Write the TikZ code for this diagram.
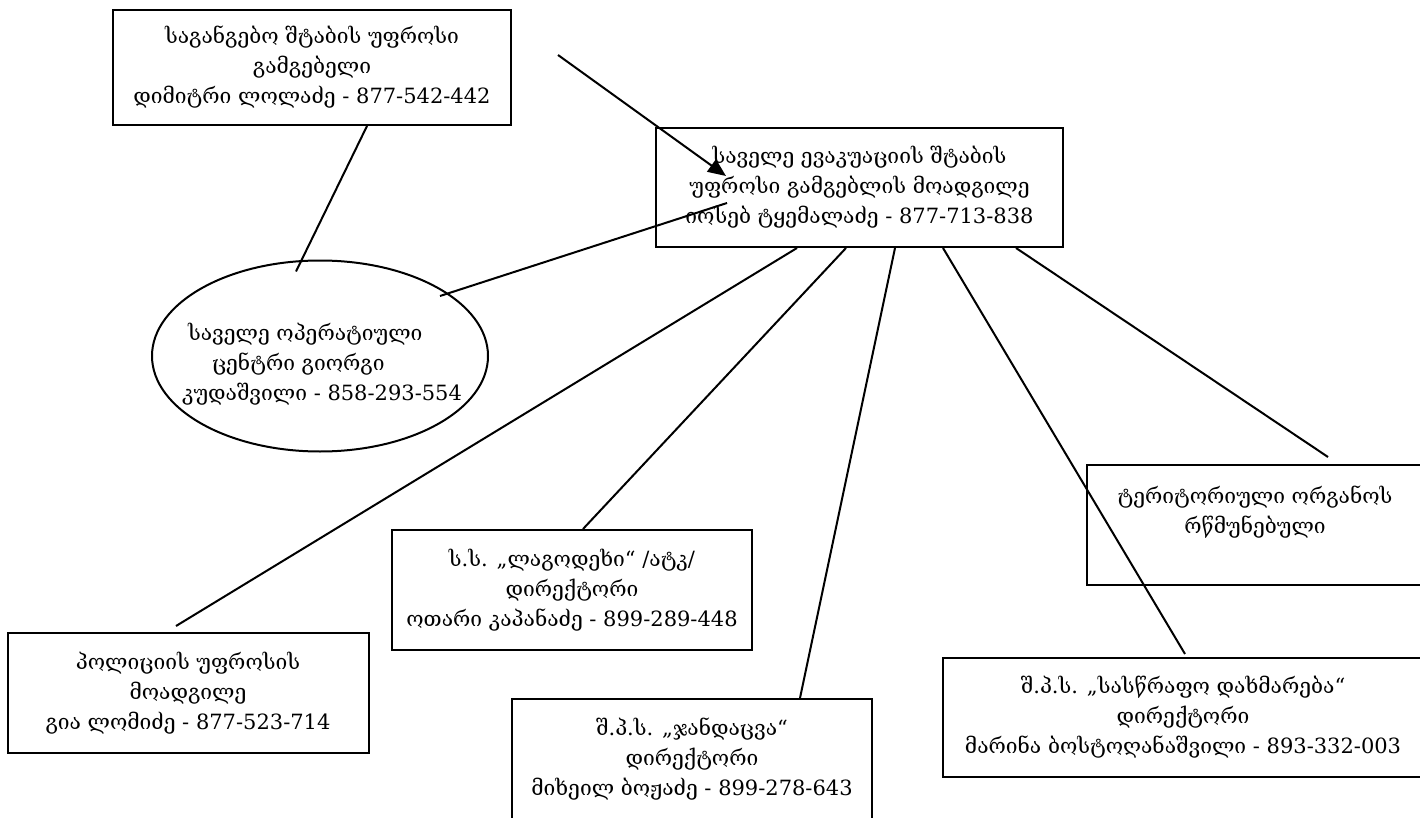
\documentclass[tikz,border=0pt]{standalone}
\usepackage{fontspec}
\setmainfont{DejaVu Serif}
\usetikzlibrary{calc,positioning,arrows.meta,shapes.geometric}

\begin{document}
\begin{tikzpicture}[x=1pt, y=-1pt,
  cardbox/.style={draw, line width=2pt, align=center, inner sep=0pt,
    font=\fontsize{21}{30}\selectfont},
  oval/.style={draw, ellipse, line width=2pt, inner sep=0pt,
    minimum width=336pt, minimum height=191pt},
  link/.style={line width=2pt}]
  \useasboundingbox (0,0) rectangle (1420,818);

  % top row — chief and his deputy
  \node[cardbox, minimum width=398pt, minimum height=115pt] (chief) at (312,67.5)
    {საგანგებო შტაბის უფროსი\\გამგებელი\\დიმიტრი ლოლაძე - 877-542-442};
  \node[cardbox, minimum width=407pt, minimum height=119pt] (deputy) at (859.5,187.5)
    {საველე ევაკუაციის შტაბის\\უფროსი გამგებლის მოადგილე\\იოსებ ტყემალაძე - 877-713-838};

  % operative centre
  \node[oval, label={[align=left, xshift=2pt, yshift=-8pt, font=\fontsize{21}{30}\selectfont]center:%
    \hspace*{6pt}საველე ოპერატიული\\\hspace*{30pt}ცენტრი გიორგი\\კუდაშვილი - 858-293-554}]
    (opcenter) at (320,356) {};

  % services below
  \node[cardbox, minimum width=361pt, minimum height=120pt] (police) at (188,693)
    {პოლიციის უფროსის\\მოადგილე\\გია ლომიძე - 877-523-714};
  \node[cardbox, minimum width=360pt, minimum height=120pt] (atk) at (572,590)
    {ს.ს. „ლაგოდეხი“ /ატკ/\\დირექტორი\\ოთარი კაპანაძე - 899-289-448};
  \node[cardbox, minimum width=360pt, minimum height=120pt] (health) at (692,759)
    {შ.პ.ს. „ჯანდაცვა“\\დირექტორი\\მიხეილ ბოჟაძე - 899-278-643};
  \node[cardbox, minimum width=480pt, minimum height=119pt] (ambulance) at (1183,717.5)
    {შ.პ.ს. „სასწრაფო დახმარება“\\დირექტორი\\მარინა ბოსტოღანაშვილი - 893-332-003};
  \node[cardbox, minimum width=336pt, minimum height=120pt] (terr) at (1255,525)
    {ტერიტორიული ორგანოს\\რწმუნებული\\\mbox{}};

  % connectors
  \coordinate (arrowtail) at (558,55);
  \draw[link, -{Triangle[length=18pt, width=15pt]}] (arrowtail) -- ([xshift=71pt, yshift=-49pt]deputy.north west);
  \draw[link] ([xshift=55pt]chief.south) -- ([xshift=-24pt, yshift=-12pt]opcenter.north);
  \draw[link] ([xshift=120pt, yshift=60pt]opcenter.center) -- ([xshift=72pt, yshift=45pt]deputy.south west);
  \draw[link] ([xshift=142pt]deputy.south west) -- ([xshift=-12pt, yshift=6pt]police.north);
  \draw[link] ([xshift=191pt]deputy.south west) -- ([xshift=11pt]atk.north);
  \draw[link] ([xshift=240pt]deputy.south west) -- ([xshift=108pt]health.north);
  \draw[link] ([xshift=288pt]deputy.south west) -- ([xshift=2pt, yshift=3pt]ambulance.north);
  \draw[link] ([xshift=361pt]deputy.south west) -- ([xshift=73pt, yshift=7pt]terr.north);
\end{tikzpicture}
\end{document}
